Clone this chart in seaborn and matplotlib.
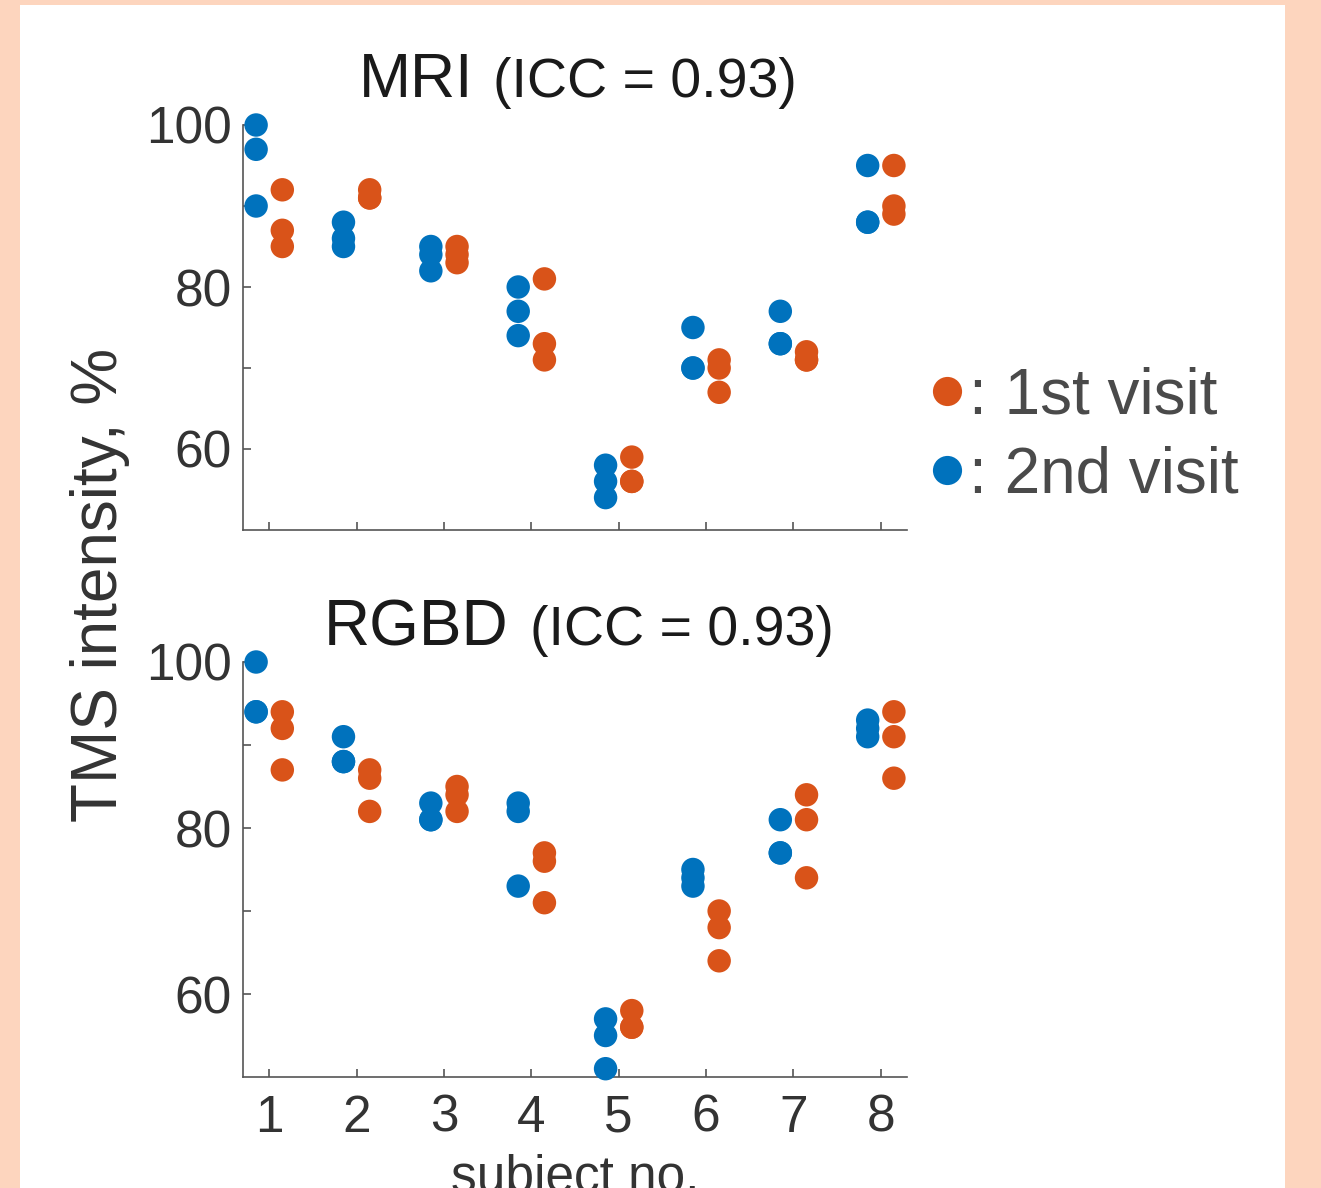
import matplotlib
matplotlib.use('Agg')
import matplotlib.pyplot as plt
from matplotlib.patches import Rectangle
from matplotlib.lines import Line2D
import seaborn as sns
import pandas as pd

subjects = [1, 2, 3, 4, 5, 6, 7, 8]

# three repeated measurements per subject and visit
mri_first = [[92, 87, 85], [92, 91, 91], [85, 84, 83], [81, 73, 71],
             [59, 56, 56], [71, 70, 67], [72, 71, 71], [95, 90, 89]]
mri_second = [[100, 97, 90], [88, 86, 85], [85, 84, 82], [80, 77, 74],
              [58, 56, 54], [75, 70, 70], [77, 73, 73], [95, 88, 88]]
rgbd_first = [[94, 92, 87], [87, 86, 82], [85, 84, 82], [77, 76, 71],
              [58, 56, 56], [70, 68, 64], [84, 81, 74], [94, 91, 86]]
rgbd_second = [[100, 94, 94], [91, 88, 88], [83, 81, 81], [83, 82, 73],
               [57, 55, 51], [75, 74, 73], [81, 77, 77], [93, 92, 91]]

visits = ['1st visit', '2nd visit']
offsets = {'1st visit': 0.15, '2nd visit': -0.15}
colors = ['#D95319', '#0072BD']
panels = [('MRI', '(ICC = 0.93)', mri_first, mri_second),
          ('RGBD', '(ICC = 0.93)', rgbd_first, rgbd_second)]


def to_frame(first, second):
    rows = []
    for visit, vals in zip(visits, [first, second]):
        for subj, reps in zip(subjects, vals):
            for v in reps:
                rows.append({'subject': subj, 'x': subj + offsets[visit],
                             'visit': visit, 'value': v})
    return pd.DataFrame(rows)


sns.set_theme(style='white')
plt.rcParams['font.family'] = ['Liberation Sans', 'DejaVu Sans']

W, H = 1321, 1188
fig = plt.figure(figsize=(W / 100, H / 100), dpi=100)
fig.patch.set_facecolor('#FDD5BE')
fig.patches.append(Rectangle((20 / W, 0), 1265 / W, 1 - 5 / H,
                             transform=fig.transFigure, facecolor='white',
                             edgecolor='none', zorder=-10))

ax_boxes = [(243 / W, 1 - 530 / H, 664 / W, 405 / H),
            (243 / W, 1 - 1077 / H, 664 / W, 415 / H)]
title_pos = [(473, 493, 97), (508, 530, 645)]
tick_col = '#333333'

for i, (name, icc, first, second) in enumerate(panels):
    ax = fig.add_axes(ax_boxes[i])
    ax.set_facecolor('white')
    df = to_frame(first, second)
    sns.scatterplot(data=df, x='x', y='value', hue='visit', hue_order=visits,
                    palette=colors, s=285, linewidth=0, legend=False, ax=ax,
                    clip_on=False, zorder=3)
    ax.set_xlim(0.7, 8.3)
    ax.set_ylim(50, 100)
    ax.set_xticks(subjects)
    ax.set_yticks([60, 70, 80, 90, 100])
    ax.set_yticklabels(['60', '', '80', '', '100'])
    if i == 0:
        ax.set_xticklabels([])
        ax.set_xlabel('')
    else:
        ax.set_xticklabels([str(s) for s in subjects])
        ax.set_xlabel('subject no.', fontsize=37, color=tick_col, labelpad=8)
    ax.set_ylabel('')
    sns.despine(ax=ax)
    for sp in ['left', 'bottom']:
        ax.spines[sp].set_color('#555555')
        ax.spines[sp].set_linewidth(1.2)
    ax.tick_params(direction='in', length=6, width=1.2, color='#555555',
                   labelsize=37, labelcolor=tick_col, pad=8)
    ax.tick_params(axis='x', pad=12)
    ax.tick_params(left=True, bottom=True)

    xr, xl, yb = title_pos[i]
    fig.text(xr / W, 1 - yb / H, name, ha='right', va='baseline',
             fontsize=45 if i == 0 else 46, color='#1a1a1a')
    fig.text(xl / W, 1 - yb / H, icc, ha='left', va='baseline',
             fontsize=40, color='#1a1a1a')

fig.text(100 / W, 1 - 585 / H, 'TMS intensity, %', rotation=90,
         ha='center', va='center', fontsize=46, color=tick_col)

handles = [Line2D([], [], linestyle='none', marker='o', markersize=21,
                  markerfacecolor=c, markeredgewidth=0) for c in colors]
fig.legend(handles, [': ' + v for v in visits], loc='center left',
           bbox_to_anchor=(907 / W, 1 - 436 / H), frameon=False,
           fontsize=46, handlelength=0.45, handletextpad=0.12,
           labelspacing=0.3, borderaxespad=0, labelcolor='#4a4a4a')

fig.savefig('out.png', dpi=100, facecolor=fig.get_facecolor())
